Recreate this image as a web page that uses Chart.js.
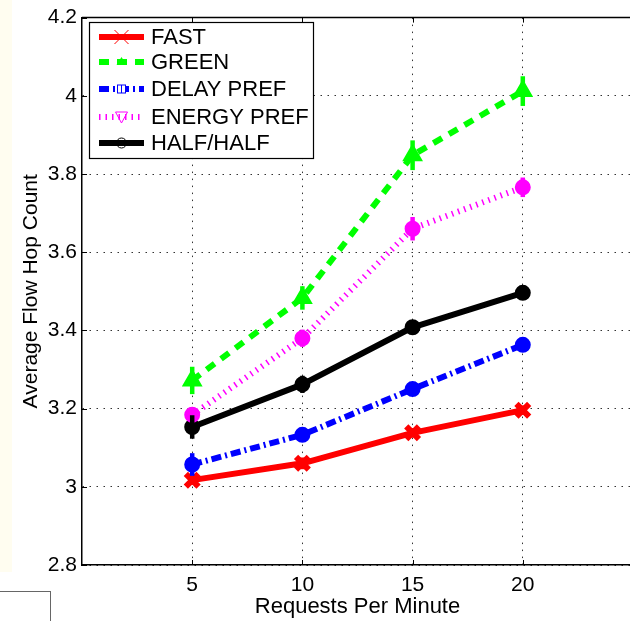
<!DOCTYPE html>
<html>
<head>
<meta charset="utf-8">
<script src="https://cdn.jsdelivr.net/npm/chart.js@4.4.1/dist/chart.umd.min.js"></script>
<style>
  html, body { margin: 0; padding: 0; background: #fff; }
  #wrap { position: relative; width: 630px; height: 621px; overflow: hidden; }
  #strip { position: absolute; left: 0; top: 0; width: 12px; height: 572px; background: #fffdf0; }
  #corner { position: absolute; left: -2px; top: 591px; width: 52px; height: 40px;
            border-top: 1px solid #666; border-right: 1px solid #666; }
  #holder { position: absolute; left: 0; top: 0; width: 700px; height: 621px; }
</style>
</head>
<body>
<div id="wrap">
  <div id="strip"></div>
  <div id="corner"></div>
  <div id="holder"><canvas id="hopChart" width="700" height="621"></canvas></div>
</div>
<script>
// values
const requests = [5, 10, 15, 20];
const xTicks = [5, 10, 15, 20];
const yTicks = [2.8, 3, 3.2, 3.4, 3.6, 3.8, 4, 4.2];

const fastHops   = [3.017, 3.060, 3.138, 3.196];
const greenHops  = [3.272, 3.483, 3.848, 4.012];
const delayHops  = [3.057, 3.133, 3.250, 3.363];
const energyHops = [3.184, 3.380, 3.660, 3.766];
const halfHops   = [3.153, 3.262, 3.408, 3.496];

const fastErr   = [0.012, 0.015, 0.012, 0.012];
const greenErr  = [0.035, 0.030, 0.038, 0.038];
const delayErr  = [0.029, 0.015, 0.015, 0.012];
const energyErr = [0.019, 0.022, 0.030, 0.025];
const halfErr   = [0.030, 0.022, 0.015, 0.012];

const FONT = "'Liberation Sans', Arial, Helvetica, sans-serif";

function pts(vals) {
    return vals.map((v, i) => ({ x: requests[i], y: v }));
}

const series = [
    { label: 'FAST', data: fastHops, err: fastErr, color: '#ff0000', dash: [], width: 6,
      point: 'crossRot', radius: 9, pbw: 6, legendMark: 'x' },
    { label: 'GREEN', data: greenHops, err: greenErr, color: '#00ff00', dash: [10, 8], width: 6,
      point: 'triangle', radius: 9, pbw: 3, legendMark: 'tri' },
    { label: 'DELAY PREF', data: delayHops, err: delayErr, color: '#0000ff', dash: [10, 4, 2, 4], width: 6,
      point: 'circle', radius: 7, pbw: 2, legendMark: 'square' },
    { label: 'ENERGY PREF', data: energyHops, err: energyErr, color: '#ff00ff', dash: [1.5, 5], width: 6,
      point: 'circle', radius: 7, pbw: 2, legendMark: 'tridown' },
    { label: 'HALF/HALF', data: halfHops, err: halfErr, color: '#000000', dash: [], width: 6,
      point: 'circle', radius: 7, pbw: 2, legendMark: 'circle' }
];

// vertical error bars, drawn through the scales
const errorBars = {
    id: 'errorBars',
    afterDatasetsDraw(chart) {
        const ctx = chart.ctx;
        const xs = chart.scales.x, ys = chart.scales.y;
        series.forEach(s => {
            ctx.save();
            ctx.strokeStyle = s.color;
            ctx.lineWidth = 4.5;
            s.data.forEach((v, i) => {
                const px = xs.getPixelForValue(requests[i]);
                ctx.beginPath();
                ctx.moveTo(px, ys.getPixelForValue(v - s.err[i]));
                ctx.lineTo(px, ys.getPixelForValue(v + s.err[i]));
                ctx.stroke();
            });
            ctx.restore();
        });
    }
};

// top frame line (right side falls outside the window) and small inward ticks
const frame = {
    id: 'frame',
    afterDraw(chart) {
        const { ctx, chartArea } = chart;
        const xs = chart.scales.x, ys = chart.scales.y;
        ctx.save();
        ctx.strokeStyle = '#000';
        ctx.lineWidth = 1.5;
        ctx.beginPath();
        ctx.moveTo(chartArea.left, chartArea.top);
        ctx.lineTo(chartArea.right, chartArea.top);
        ctx.stroke();
        ctx.lineWidth = 1;
        ctx.beginPath();
        xTicks.forEach(v => {
            const px = Math.round(xs.getPixelForValue(v)) + 0.5;
            ctx.moveTo(px, chartArea.top); ctx.lineTo(px, chartArea.top + 5);
            ctx.moveTo(px, chartArea.bottom); ctx.lineTo(px, chartArea.bottom - 5);
        });
        yTicks.forEach(v => {
            const py = Math.round(ys.getPixelForValue(v)) + 0.5;
            ctx.moveTo(chartArea.left, py); ctx.lineTo(chartArea.left + 5, py);
        });
        ctx.stroke();
        ctx.restore();
    }
};

// matlab style legend box
const boxLegend = {
    id: 'boxLegend',
    afterDraw(chart) {
        const ctx = chart.ctx;
        const bx = 89, by = 22, bw = 224, bh = 136;
        const rows = [37, 62, 89, 117, 143];
        ctx.save();
        ctx.fillStyle = '#fff';
        ctx.fillRect(bx, by, bw, bh);
        ctx.strokeStyle = '#000';
        ctx.lineWidth = 1.2;
        ctx.strokeRect(bx + 0.5, by + 0.5, bw, bh);
        series.forEach((s, i) => {
            const y = rows[i];
            ctx.save();
            ctx.strokeStyle = s.color;
            ctx.lineWidth = s.width;
            ctx.setLineDash(s.dash);
            ctx.beginPath();
            ctx.moveTo(99, y);
            ctx.lineTo(144, y);
            ctx.stroke();
            ctx.setLineDash([]);
            ctx.lineWidth = 1;
            const cx = 121.5;
            ctx.beginPath();
            if (s.legendMark === 'x') {
                ctx.moveTo(cx - 7, y - 7); ctx.lineTo(cx + 7, y + 7);
                ctx.moveTo(cx + 7, y - 7); ctx.lineTo(cx - 7, y + 7);
                ctx.stroke();
            } else if (s.legendMark === 'tri') {
                ctx.fillStyle = s.color;
                ctx.moveTo(cx, y - 5); ctx.lineTo(cx + 5, y + 3); ctx.lineTo(cx - 5, y + 3);
                ctx.closePath(); ctx.fill();
            } else if (s.legendMark === 'square') {
                ctx.fillStyle = '#fff';
                ctx.fillRect(cx - 4, y - 4, 8, 8);
                ctx.strokeRect(cx - 4, y - 4, 8, 8);
                ctx.beginPath(); ctx.moveTo(cx, y - 4); ctx.lineTo(cx, y + 4); ctx.stroke();
            } else if (s.legendMark === 'tridown') {
                ctx.moveTo(cx - 6, y - 5); ctx.lineTo(cx + 6, y - 5); ctx.lineTo(cx, y + 6);
                ctx.closePath(); ctx.stroke();
            } else {
                ctx.arc(cx, y, 5, 0, Math.PI * 2);
                ctx.stroke();
            }
            ctx.restore();
            ctx.fillStyle = '#000';
            ctx.font = '22px ' + FONT;
            ctx.textBaseline = 'middle';
            ctx.textAlign = 'left';
            ctx.fillText(s.label, 151, y + 1);
        });
        ctx.restore();
    }
};

const ctx = document.getElementById('hopChart').getContext('2d');
const hopChart = new Chart(ctx, {
    type: 'line',
    data: {
        datasets: series.map(s => ({
            label: s.label,
            data: pts(s.data),
            borderColor: s.color,
            backgroundColor: s.color,
            borderWidth: s.width,
            borderDash: s.dash,
            borderCapStyle: 'butt',
            borderJoinStyle: 'round',
            pointStyle: s.point,
            pointRadius: s.radius,
            pointBorderWidth: s.pbw,
            pointBackgroundColor: s.color,
            pointBorderColor: s.color,
            tension: 0,
            fill: false
        }))
    },
    options: {
        responsive: false,
        animation: false,
        events: [],
        layout: { padding: { left: 0, top: 13, right: 67, bottom: 0 } },
        plugins: {
            legend: { display: false },
            tooltip: { enabled: false }
        },
        scales: {
            x: {
                type: 'linear',
                min: 0,
                max: 25,
                afterBuildTicks: scale => { scale.ticks = xTicks.map(v => ({ value: v })); },
                afterFit: scale => { scale.height = 56; },
                grid: { color: '#333', lineWidth: 1, drawTicks: false },
                border: { display: true, color: '#000', width: 1.5, dash: [1.5, 5.5] },
                ticks: { color: '#000', font: { family: FONT, size: 21 }, padding: 8, maxRotation: 0 },
                title: { display: true, text: 'Requests Per Minute', color: '#000',
                         font: { family: FONT, size: 22 }, padding: { top: 0, bottom: 1 } }
            },
            y: {
                min: 2.8,
                max: 4.2,
                afterBuildTicks: scale => { scale.ticks = yTicks.map(v => ({ value: v })); },
                afterFit: scale => { scale.width = 82; },
                grid: { color: '#333', lineWidth: 1, drawTicks: false },
                border: { display: true, color: '#000', width: 1.5, dash: [1.5, 5.5] },
                ticks: { color: '#000', font: { family: FONT, size: 21 }, padding: 5,
                         callback: v => String(Number(v.toFixed(1))) },
                title: { display: true, text: 'Average Flow Hop Count', color: '#000',
                         font: { family: FONT, size: 21 }, padding: { top: 19, bottom: 0 } }
            }
        }
    },
    plugins: [errorBars, frame, boxLegend]
});
</script>
</body>
</html>
